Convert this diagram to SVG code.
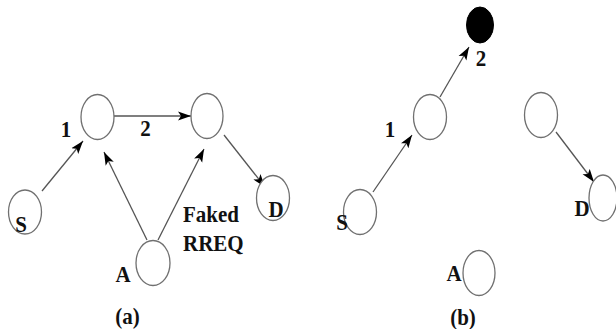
<svg xmlns="http://www.w3.org/2000/svg" width="616" height="329" viewBox="0 0 616 329">
<style>
.n{fill:#fff;stroke:#707070;stroke-width:1.3}
.f{fill:#000;stroke:#000;stroke-width:1}
.e{stroke:#555;stroke-width:1.3;fill:none;marker-end:url(#ah)}
.t{font-family:'Liberation Serif','Times New Roman','DejaVu Serif',serif;font-weight:700;font-size:21px;fill:#111;transform-box:fill-box;transform-origin:center;transform:scale(1,1.12)}
.m{text-anchor:middle}
</style>
<defs>
<marker id="ah" markerUnits="userSpaceOnUse" markerWidth="14" markerHeight="10" refX="13" refY="5" orient="auto">
<path d="M0,0.5 L13,5 L0,9.5 L3,5 Z" fill="#000"/>
</marker>
</defs>
<rect width="616" height="329" fill="#fff"/>
<g id="connectors">
<line class="e" x1="42" y1="191" x2="83" y2="141"/>
<line class="e" x1="114" y1="116" x2="191" y2="116"/>
<line class="e" x1="147" y1="240" x2="104" y2="152"/>
<line class="e" x1="158" y1="240" x2="204" y2="149"/>
<line class="e" x1="224" y1="135" x2="265" y2="187"/>
<line class="e" x1="373" y1="192" x2="412" y2="135"/>
<line class="e" x1="440" y1="97" x2="469" y2="47"/>
<line class="e" x1="556" y1="132" x2="594" y2="182"/>
</g>
<g id="a-n1"><ellipse class="n" cx="97.5" cy="117" rx="16.5" ry="22.5"/></g>
<g id="a-n2"><ellipse class="n" cx="207" cy="116" rx="16" ry="22.5"/></g>
<g id="a-D"><ellipse class="n" cx="273" cy="198" rx="16.5" ry="22.5"/><text class="t m" x="276" y="216">D</text></g>
<g id="a-S"><ellipse class="n" cx="25" cy="212" rx="16.5" ry="22"/><text class="t m" x="21" y="231">S</text></g>
<g id="a-A"><ellipse class="n" cx="153" cy="263" rx="17" ry="22.5"/><text class="t m" x="123" y="281">A</text></g>
<text class="t m" x="66" y="136">1</text>
<text class="t m" x="145.5" y="135">2</text>
<text class="t" x="183" y="221">Faked</text>
<text class="t" x="183" y="250">RREQ</text>
<text class="t m" x="127.5" y="323">(a)</text>
<g id="b-n1"><ellipse class="n" cx="430" cy="117" rx="16.5" ry="22.5"/></g>
<g id="b-n2"><ellipse class="f" cx="480" cy="25" rx="13.5" ry="18"/></g>
<g id="b-n3"><ellipse class="n" cx="541" cy="115" rx="16.5" ry="22.5"/></g>
<g id="b-D"><ellipse class="n" cx="603" cy="198" rx="14" ry="23"/><text class="t m" x="582" y="215">D</text></g>
<g id="b-S"><ellipse class="n" cx="360" cy="212" rx="16.5" ry="22.5"/><text class="t m" x="342" y="229">S</text></g>
<g id="b-A"><ellipse class="n" cx="479" cy="273" rx="16" ry="22.5"/><text class="t m" x="454" y="280">A</text></g>
<text class="t m" x="390" y="136">1</text>
<text class="t m" x="481" y="65">2</text>
<text class="t m" x="463" y="324">(b)</text>
</svg>
